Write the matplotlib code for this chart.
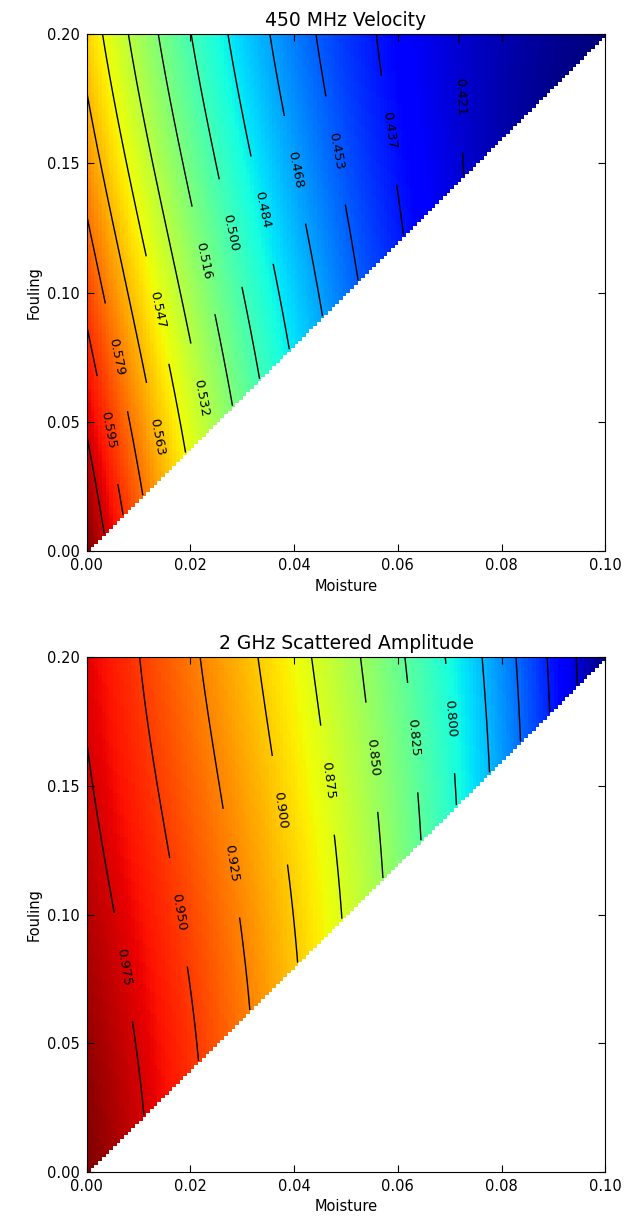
import numpy as np
import matplotlib
matplotlib.use('Agg')
import matplotlib.pyplot as plt

# points read along the contour lines of each panel (moisture, fouling, value)
vel_moist = [0.0, 0.0033,
             0.0, 0.0039, 0.0071,
             0.0, 0.0058, 0.0110,
             0.0, 0.0133, 0.0149,
             0.0029, 0.0135, 0.0189,
             0.0085, 0.0226, 0.0236,
             0.0139, 0.0228, 0.0280,
             0.0201, 0.0276, 0.0334,
             0.0270, 0.0338, 0.0388,
             0.0347, 0.0398, 0.0449,
             0.0446, 0.0483, 0.0524,
             0.0569, 0.0585, 0.0610,
             0.0705, 0.0720, 0.0735,
             0.0, 0.1]
vel_foul = [0.047, 0.0066,
            0.0855, 0.0468, 0.0142,
            0.133, 0.0750, 0.0220,
            0.1745, 0.0441, 0.0298,
            0.2, 0.0932, 0.0378,
            0.2, 0.0596, 0.0472,
            0.2, 0.1126, 0.0560,
            0.2, 0.1230, 0.0668,
            0.2, 0.1319, 0.0776,
            0.2, 0.1474, 0.0898,
            0.2, 0.1551, 0.1048,
            0.2, 0.1629, 0.1220,
            0.2, 0.1756, 0.1470,
            0.0, 0.2]
vel_value = [0.611, 0.611,
             0.595, 0.595, 0.595,
             0.579, 0.579, 0.579,
             0.563, 0.563, 0.563,
             0.547, 0.547, 0.547,
             0.532, 0.532, 0.532,
             0.516, 0.516, 0.516,
             0.500, 0.500, 0.500,
             0.484, 0.484, 0.484,
             0.468, 0.468, 0.468,
             0.453, 0.453, 0.453,
             0.437, 0.437, 0.437,
             0.421, 0.421, 0.421,
             0.626, 0.405]
vel_range = (0.405, 0.626)
vel_levels = [0.421, 0.437, 0.453, 0.468, 0.484, 0.500, 0.516,
              0.532, 0.547, 0.563, 0.579, 0.595, 0.611]
vel_labelled = [0.421, 0.437, 0.453, 0.468, 0.484, 0.500, 0.516,
                0.532, 0.547, 0.563, 0.579, 0.595]

amp_moist = [0.0, 0.0071, 0.0109,
             0.0100, 0.0180, 0.0219,
             0.0220, 0.0278, 0.0314,
             0.0334, 0.0373, 0.0405,
             0.0434, 0.0461, 0.0488,
             0.0527, 0.0550, 0.0575,
             0.0610, 0.0633, 0.0645,
             0.0690, 0.0705, 0.0714,
             0.0763, 0.0778,
             0.0830, 0.0836,
             0.0888, 0.0890,
             0.0942, 0.0943,
             0.0, 0.1]
amp_foul = [0.168, 0.0796, 0.0218,
            0.2, 0.1010, 0.0438,
            0.2, 0.1200, 0.0628,
            0.2, 0.1406, 0.0810,
            0.2, 0.1522, 0.0976,
            0.2, 0.1612, 0.1150,
            0.2, 0.1689, 0.1290,
            0.2, 0.1763, 0.1428,
            0.2, 0.1556,
            0.2, 0.1672,
            0.2, 0.1780,
            0.2, 0.1886,
            0.0, 0.2]
amp_value = [0.975, 0.975, 0.975,
             0.950, 0.950, 0.950,
             0.925, 0.925, 0.925,
             0.900, 0.900, 0.900,
             0.875, 0.875, 0.875,
             0.850, 0.850, 0.850,
             0.825, 0.825, 0.825,
             0.800, 0.800, 0.800,
             0.775, 0.775,
             0.750, 0.750,
             0.725, 0.725,
             0.700, 0.700,
             1.000, 0.675]
amp_range = (0.675, 1.000)
amp_levels = [0.700, 0.725, 0.750, 0.775, 0.800, 0.825, 0.850, 0.875,
              0.900, 0.925, 0.950, 0.975]
amp_labelled = [0.800, 0.825, 0.850, 0.875, 0.900, 0.925, 0.950, 0.975]

# where the inline labels sit
vel_label_spots = [(0.0720, 0.1756), (0.0585, 0.1629), (0.0483, 0.1551),
                   (0.0398, 0.1474), (0.0338, 0.1319), (0.0276, 0.1230),
                   (0.0228, 0.1126), (0.0226, 0.0596), (0.0135, 0.0932),
                   (0.0133, 0.0441), (0.0058, 0.0750), (0.0039, 0.0468)]
amp_label_spots = [(0.0705, 0.1763), (0.0633, 0.1689), (0.0550, 0.1612),
                   (0.0461, 0.1522), (0.0373, 0.1406), (0.0278, 0.1200),
                   (0.0180, 0.1010), (0.0071, 0.0796)]


def terms(m, f):
    x = np.asarray(m) / 0.1
    y = np.asarray(f) / 0.2
    return np.stack([np.ones_like(x), x, y, x*x, x*y, y*y,
                     x**3, x*x*y, x*y*y, y**3], axis=-1)


def fit_surface(m, f, v):
    coef, _, _, _ = np.linalg.lstsq(terms(m, f), np.asarray(v), rcond=None)
    return lambda mm, ff: terms(mm, ff) @ coef


def draw_panel(ax, title, m, f, v, crange, levels, labelled, spots):
    surf = fit_surface(m, f, v)

    n = 140
    mc = (np.arange(n) + 0.5) * 0.1 / n
    fc = (np.arange(n) + 0.5) * 0.2 / n
    MC, FC = np.meshgrid(mc, fc)
    img = np.ma.masked_where(FC < 2 * MC, surf(MC, FC))
    ax.imshow(img, extent=[0, 0.1, 0, 0.2], origin='lower', aspect='auto',
              cmap='jet', vmin=crange[0], vmax=crange[1],
              interpolation='nearest')

    mf = np.linspace(0, 0.1, 500)
    ff = np.linspace(0, 0.2, 500)
    MF, FF = np.meshgrid(mf, ff)
    z = np.ma.masked_where(FF < 2 * MF - 0.0004, surf(MF, FF))
    plain = [lv for lv in levels if lv not in labelled]
    if plain:
        ax.contour(MF, FF, z, levels=plain, colors='k', linewidths=1.0)
    cs = ax.contour(MF, FF, z, levels=labelled, colors='k', linewidths=1.0)
    ax.clabel(cs, fmt='%.3f', fontsize=9.5, inline=True,
              inline_spacing=36, manual=spots)

    ax.set_xlim(0, 0.1)
    ax.set_ylim(0, 0.2)
    ax.set_xticks([0.0, 0.02, 0.04, 0.06, 0.08, 0.10])
    ax.set_yticks([0.0, 0.05, 0.10, 0.15, 0.20])
    ax.xaxis.set_major_formatter(plt.FormatStrFormatter('%.2f'))
    ax.yaxis.set_major_formatter(plt.FormatStrFormatter('%.2f'))
    ax.tick_params(direction='in', top=True, right=True, length=5,
                   labelsize=10.5, pad=5)
    ax.set_title(title, fontsize=13.5)
    ax.set_xlabel('Moisture', fontsize=10.5)
    ax.set_ylabel('Fouling', fontsize=10.5)


fig = plt.figure(figsize=(6.24, 12.22), dpi=100)
ax1 = fig.add_axes([0.139, 0.549, 0.831, 0.423])
ax2 = fig.add_axes([0.139, 0.041, 0.831, 0.421])

draw_panel(ax1, '450 MHz Velocity', vel_moist, vel_foul, vel_value,
           vel_range, vel_levels, vel_labelled, vel_label_spots)
draw_panel(ax2, '2 GHz Scattered Amplitude', amp_moist, amp_foul, amp_value,
           amp_range, amp_levels, amp_labelled, amp_label_spots)

fig.savefig('out.png', dpi=100, facecolor='white')
